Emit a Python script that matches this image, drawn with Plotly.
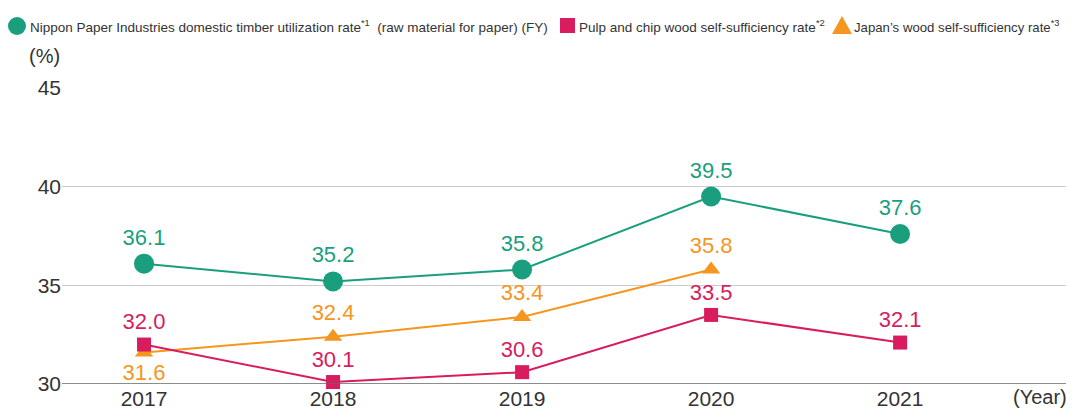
import plotly.graph_objects as go

years = [2017, 2018, 2019, 2020, 2021]
year_labels = ["2017", "2018", "2019", "2020", "2021"]
nippon = [36.1, 35.2, 35.8, 39.5, 37.6]
pulp = [32.0, 30.1, 30.6, 33.5, 32.1]
japan_years = [2017, 2018, 2019, 2020]
japan = [31.6, 32.4, 33.4, 35.8]

names = [
    "Nippon Paper Industries domestic timber utilization rate<sup>*1</sup>  (raw material for paper) (FY)",
    "Pulp and chip wood self-sufficiency rate<sup>*2</sup>",
    "Japan\u2019s wood self-sufficiency rate<sup>*3</sup>",
]
GREEN = "#1a9f7e"
RED = "#d81c5e"
ORANGE = "#f5961f"
TXT = "#333333"
FONT = "Liberation Sans, Arial, sans-serif"

OFF = 8  # page body margin
W, H = 1074 - OFF, 408 - OFF
L, R, T, B = 62 - OFF, 0, 88 - OFF, 24
PW, PH = W - L - R, H - T - B


def px(x):
    # screen pixel -> paper x
    return (x - OFF - L) / PW


def py(y):
    # screen pixel -> paper y
    return (H - B - (y - OFF)) / PH


fig = go.Figure()

fig.add_trace(go.Scatter(
    x=japan_years, y=japan, mode="lines+markers+text",
    line=dict(color=ORANGE, width=2),
    marker=dict(symbol="triangle-up", size=16, color=ORANGE),
    text=[f"{v:.1f}" for v in japan],
    textposition=["bottom center", "top center", "top center", "top center"],
    textfont=dict(color=ORANGE, size=22, family=FONT),
    showlegend=False, cliponaxis=False,
))
fig.add_trace(go.Scatter(
    x=years, y=pulp, mode="lines+markers+text",
    line=dict(color=RED, width=2),
    marker=dict(symbol="square", size=14, color=RED),
    text=[f"{v:.1f}" for v in pulp],
    textposition="top center",
    textfont=dict(color=RED, size=22, family=FONT),
    showlegend=False, cliponaxis=False,
))
fig.add_trace(go.Scatter(
    x=years, y=nippon, mode="lines+markers+text",
    line=dict(color=GREEN, width=2),
    marker=dict(symbol="circle", size=20, color=GREEN),
    text=[f"{v:.1f}" for v in nippon],
    textposition="top center",
    textfont=dict(color=GREEN, size=22, family=FONT),
    showlegend=False, cliponaxis=False,
))

# legend drawn manually
annotations = [
    dict(text=names[0], xref="paper", yref="paper", x=px(28), y=py(26),
         xanchor="left", yanchor="middle", showarrow=False,
         font=dict(family=FONT, size=13.5, color=TXT)),
    dict(text=names[1], xref="paper", yref="paper", x=px(577), y=py(26),
         xanchor="left", yanchor="middle", showarrow=False,
         font=dict(family=FONT, size=13.5, color=TXT)),
    dict(text=names[2], xref="paper", yref="paper", x=px(852), y=py(26),
         xanchor="left", yanchor="middle", showarrow=False,
         font=dict(family=FONT, size=13.2, color=TXT)),
    dict(text="(%)", xref="paper", yref="paper", x=px(27), y=py(56),
         xanchor="left", yanchor="middle", showarrow=False,
         font=dict(family=FONT, size=20, color=TXT)),
    dict(text="(Year)", xref="paper", yref="paper", x=px(1069), y=py(397),
         xanchor="right", yanchor="middle", showarrow=False,
         font=dict(family=FONT, size=20, color=TXT)),
]
shapes = [
    dict(type="circle", xref="paper", yref="paper", x0=px(8), x1=px(26), y0=py(35), y1=py(17),
         fillcolor=GREEN, line=dict(width=0)),
    dict(type="rect", xref="paper", yref="paper", x0=px(560), x1=px(575), y0=py(33), y1=py(18),
         fillcolor=RED, line=dict(width=0)),
    dict(type="path", xref="paper", yref="paper",
         path=f"M {px(832)} {py(34)} L {px(852)} {py(34)} L {px(842)} {py(16)} Z",
         fillcolor=ORANGE, line=dict(width=0)),
    dict(type="line", xref="paper", yref="y", x0=0, x1=1, y0=30, y1=30,
         line=dict(color="#666666", width=1.5)),
]

fig.update_layout(
    width=W, height=H,
    margin=dict(l=L, r=R, t=T, b=B, autoexpand=False),
    paper_bgcolor="white", plot_bgcolor="white",
    font=dict(family=FONT, color=TXT),
    showlegend=False,
    xaxis=dict(
        range=[2016.566, 2021.92], tickvals=years, ticktext=year_labels,
        showgrid=False, zeroline=False, showline=False, automargin=False,
        tickfont=dict(size=21, color=TXT), ticks="",
    ),
    yaxis=dict(
        range=[30, 45], tickvals=[30, 35, 40, 45], automargin=False,
        showgrid=True, gridcolor="#cccccc", gridwidth=1,
        zeroline=False, showline=False, ticks="",
        tickfont=dict(size=21, color=TXT),
    ),
    annotations=annotations,
    shapes=shapes,
)

fig.write_html("out.html")
